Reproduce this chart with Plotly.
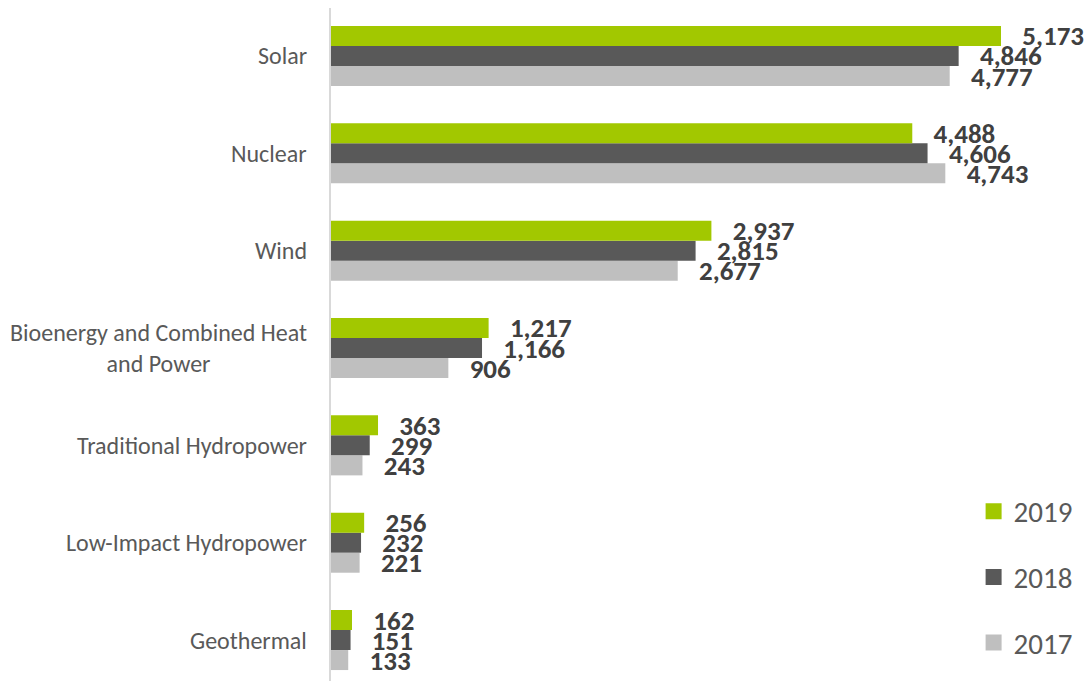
import plotly.graph_objects as go

categories = ["Geothermal", "Low-Impact Hydropower", "Traditional Hydropower",
              "Bioenergy and Combined Heat<br>and Power", "Wind", "Nuclear", "Solar"]
v2017 = [133, 221, 243, 906, 2677, 4743, 4777]
v2018 = [151, 232, 299, 1166, 2815, 4606, 4846]
v2019 = [162, 256, 363, 1217, 2937, 4488, 5173]
series = [("2017", v2017, "#BFBFBF"), ("2018", v2018, "#595959"), ("2019", v2019, "#A2C800")]

FONT = "Carlito, 'Open Sans', sans-serif"
fig = go.Figure()
for i, (name, vals, col) in enumerate(series):
    fig.add_trace(go.Bar(
        name=name, y=categories, x=vals, orientation="h",
        marker=dict(color=col, line=dict(width=0)),
        text=["\u00a0" * 3 + f"{v:,}" for v in vals],
        textposition="outside", constraintext="none", cliponaxis=False,
        textfont=dict(family=FONT, size=27, color="#404040", weight="bold"),
        showlegend=False, hoverinfo="skip",
    ))
# legend entries (square swatches)
for i, (name, vals, col) in enumerate(series):
    fig.add_trace(go.Scatter(
        name=name, x=[None], y=[None], mode="markers",
        marker=dict(symbol="square", size=18, color=col),
        legendgroup=name, legendrank=3 - i, showlegend=True, hoverinfo="skip",
    ))

for c in categories:
    fig.add_annotation(x=0, xref="paper", y=c, yref="y", text=c, showarrow=False,
                       xanchor="right", align="center", xshift=-22,
                       font=dict(family=FONT, size=24, color="#595959"))

fig.update_layout(
    width=1087, height=681,
    margin=dict(l=331, r=0, t=8, b=0, autoexpand=False),
    plot_bgcolor="white", paper_bgcolor="white",
    barmode="group", bargap=0.383, bargroupgap=0,
    showlegend=True,
    legend=dict(x=0.85, xanchor="left", y=0.29, yanchor="top", traceorder="grouped",
                tracegroupgap=25, itemsizing="trace",
                font=dict(family=FONT, size=29, color="#595959"),
                bgcolor="rgba(0,0,0,0)"),
    xaxis=dict(range=[0, 5837], showgrid=False, zeroline=False, showticklabels=False,
               showline=False, fixedrange=True),
    yaxis=dict(range=[-0.421, 6.493], showticklabels=False, showline=True,
               linecolor="#D9D9D9", linewidth=2, ticks="", showgrid=False),
)
fig.write_html("out.html", config={"displayModeBar": False},
               post_script="document.body.style.margin='0';document.body.style.overflow='hidden';")
